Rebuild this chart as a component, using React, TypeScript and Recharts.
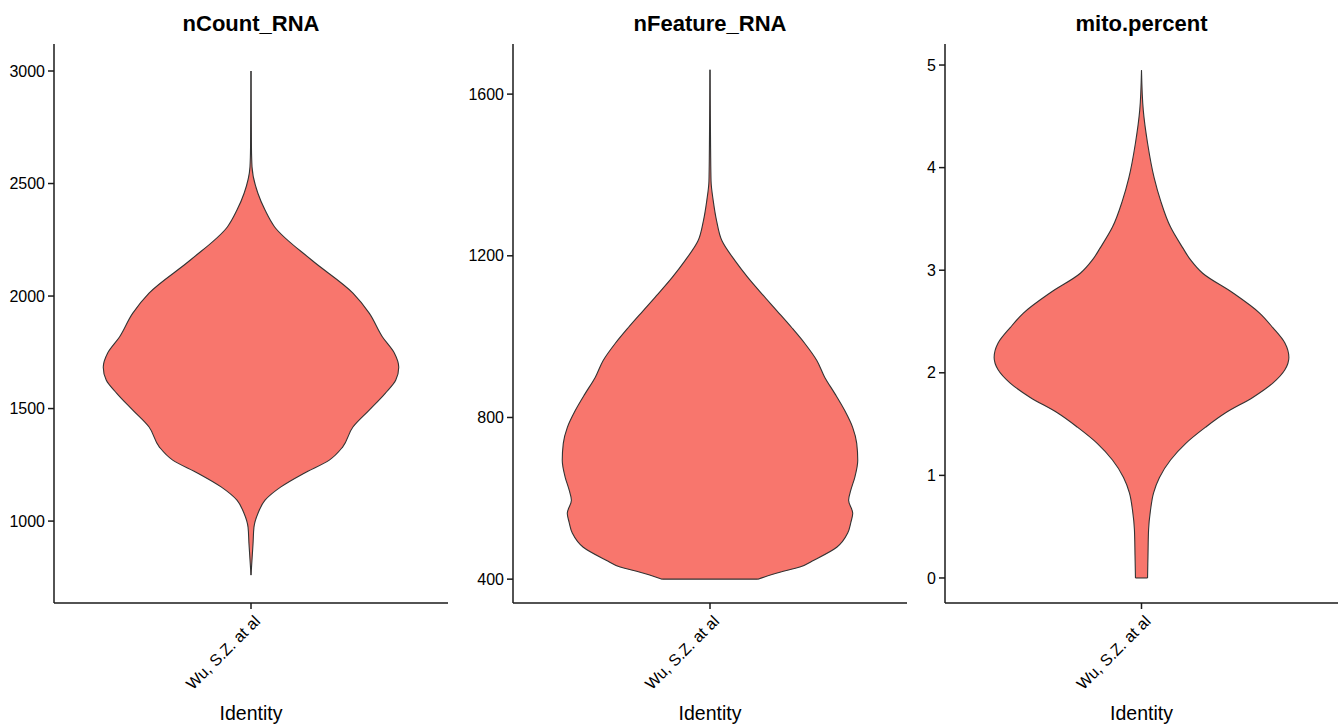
import React from 'react';
import { ComposedChart, Area, XAxis, YAxis, ReferenceLine, Label } from 'recharts';

const identity = 'Wu, S.Z. at al';

// nCount_RNA: values along the y axis and the scaled density (1 = widest point)
const nCountValues = [760, 902, 973, 1036, 1093, 1151, 1213, 1271, 1329, 1418, 1493, 1569, 1627, 1684, 1747, 1818, 1924, 2013, 2160, 2307, 2382, 2458, 2573, 2662, 3000];
const nCountDensity = [0, 0.014, 0.02, 0.048, 0.095, 0.2, 0.36, 0.53, 0.62, 0.69, 0.8, 0.91, 0.98, 1.0, 0.97, 0.89, 0.8, 0.69, 0.41, 0.16, 0.095, 0.046, 0.007, 0.003, 0];
const nCountTicks = [1000, 1500, 2000, 2500, 3000];

// nFeature_RNA
const nFeatureValues = [400, 417, 430, 447, 479, 514, 540, 563, 595, 620, 652, 694, 736, 775, 817, 859, 899, 941, 983, 1022, 1064, 1106, 1146, 1188, 1237, 1286, 1336, 1385, 1466, 1660];
const nFeatureDensity = [0.324, 0.473, 0.608, 0.703, 0.858, 0.932, 0.953, 0.966, 0.938, 0.953, 0.98, 1.0, 0.993, 0.966, 0.912, 0.845, 0.777, 0.723, 0.642, 0.554, 0.453, 0.351, 0.257, 0.169, 0.081, 0.045, 0.022, 0.007, 0.004, 0];
const nFeatureTicks = [400, 800, 1200, 1600];

// mito.percent
const mitoValues = [0, 0.22, 0.47, 0.66, 0.83, 0.98, 1.15, 1.31, 1.47, 1.61, 1.76, 1.9, 2.03, 2.15, 2.29, 2.44, 2.58, 2.78, 2.97, 3.1, 3.22, 3.42, 3.68, 3.9, 4.24, 4.56, 4.95];
const mitoDensity = [0.041, 0.044, 0.048, 0.061, 0.082, 0.122, 0.197, 0.299, 0.435, 0.571, 0.755, 0.891, 0.973, 1.0, 0.973, 0.891, 0.803, 0.619, 0.415, 0.333, 0.279, 0.197, 0.129, 0.086, 0.041, 0.012, 0];
const mitoTicks = [0, 1, 2, 3, 4, 5];

const VIOLIN_HALF = 0.45;
const FILL = '#F8766D';
const LINE = '#1a1a1a';

const toRows = (values: number[], density: number[]) =>
  values.map((v, i) => ({ v, range: [-density[i] * VIOLIN_HALF, density[i] * VIOLIN_HALF] }));

const IdentityTick = (props: any) => {
  const { x, y, payload } = props;
  return (
    <text
      x={x}
      y={y}
      dy="0.9em"
      textAnchor="end"
      transform={`rotate(-45, ${x}, ${y})`}
      fontSize={16}
      fill="#000"
    >
      {payload.value === 0 ? identity : ''}
    </text>
  );
};

type PanelProps = {
  title: string;
  rows: { v: number; range: number[] }[];
  ticks: number[];
  domain: [number, number];
  left: number;
  width: number;
  yAxisWidth: number;
};

const ViolinPanel = ({ title, rows, ticks, domain, left, width, yAxisWidth }: PanelProps) => {
  const plotWidth = width - yAxisWidth - 2;
  const first = rows[0];
  return (
    <div style={{ position: 'absolute', left, top: 0, width, height: 727 }}>
      <div
        style={{
          position: 'absolute',
          left: yAxisWidth,
          width: plotWidth,
          top: 12,
          textAlign: 'center',
          fontWeight: 'bold',
          fontSize: 22,
          lineHeight: '24px',
          color: '#000',
        }}
      >
        {title}
      </div>
      <ComposedChart
        width={width}
        height={727}
        data={rows}
        layout="vertical"
        margin={{ top: 44, right: 2, bottom: 0, left: 0 }}
      >
        <XAxis
          type="number"
          domain={[-0.6, 0.6]}
          ticks={[0]}
          tick={<IdentityTick />}
          tickSize={6}
          tickMargin={3}
          height={124}
          axisLine={{ stroke: LINE, strokeWidth: 1.5 }}
          tickLine={{ stroke: LINE, strokeWidth: 1.5 }}
          allowDataOverflow
        >
          <Label value="Identity" position="insideBottom" offset={7} fontSize={19.5} fill="#000" />
        </XAxis>
        <YAxis
          type="number"
          dataKey="v"
          domain={domain}
          ticks={ticks}
          reversed
          width={yAxisWidth}
          tickSize={6}
          tickMargin={3}
          tick={{ fill: '#000', fontSize: 16 }}
          axisLine={{ stroke: LINE, strokeWidth: 1.5 }}
          tickLine={{ stroke: LINE, strokeWidth: 1.5 }}
          allowDataOverflow
        />
        <Area
          dataKey="range"
          type="monotone"
          fill={FILL}
          fillOpacity={1}
          stroke="#333"
          strokeWidth={1.1}
          isAnimationActive={false}
          dot={false}
          activeDot={false}
        />
        <ReferenceLine
          segment={[
            { x: first.range[0], y: first.v },
            { x: first.range[1], y: first.v },
          ]}
          stroke="#333"
          strokeWidth={1.1}
        />
      </ComposedChart>
    </div>
  );
};

export default function App() {
  return (
    <div
      style={{
        position: 'absolute',
        left: 0,
        top: 0,
        width: 1343,
        height: 727,
        background: '#fff',
        fontFamily: '"Liberation Sans", Arial, sans-serif',
      }}
    >
      <ViolinPanel
        title="nCount_RNA"
        rows={toRows(nCountValues, nCountDensity)}
        ticks={nCountTicks}
        domain={[636, 3120]}
        left={0}
        width={450}
        yAxisWidth={54}
      />
      <ViolinPanel
        title="nFeature_RNA"
        rows={toRows(nFeatureValues, nFeatureDensity)}
        ticks={nFeatureTicks}
        domain={[341, 1724]}
        left={450}
        width={459}
        yAxisWidth={63}
      />
      <ViolinPanel
        title="mito.percent"
        rows={toRows(mitoValues, mitoDensity)}
        ticks={mitoTicks}
        domain={[-0.244, 5.205]}
        left={909}
        width={431}
        yAxisWidth={36}
      />
    </div>
  );
}
